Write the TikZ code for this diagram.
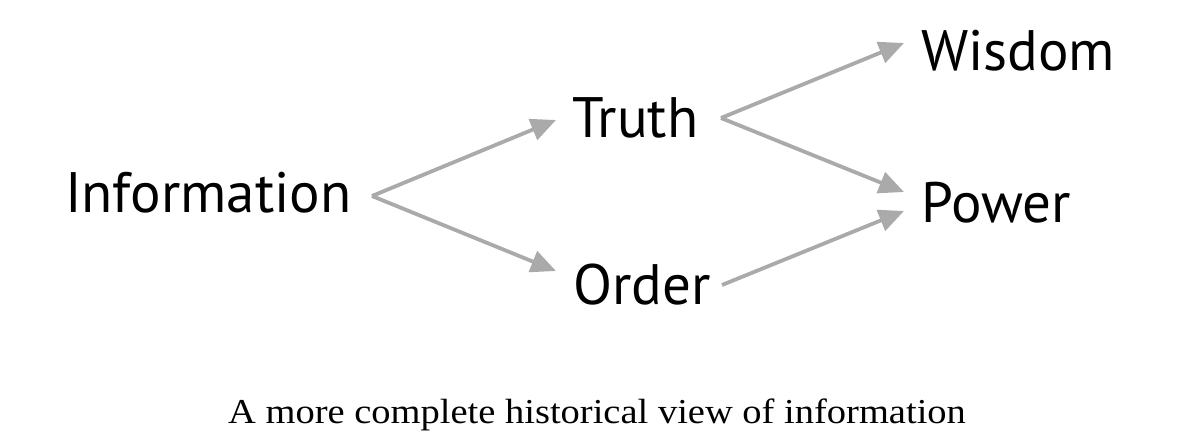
\documentclass[tikz,border=0pt]{standalone}
\usepackage{fontspec}
\setmainfont{Liberation Serif}
\newfontfamily\labelfont{PT Sans}
\usetikzlibrary{arrows.meta}
\definecolor{arrowgray}{RGB}{170,170,170}
\tikzset{
  word/.style={inner sep=0pt, anchor=base west, font=\labelfont\fontsize{57}{60}\selectfont},
  flow/.style={draw=arrowgray, line width=3.8pt, -{Triangle[length=25pt,width=22pt]}},
}
\begin{document}
\begin{tikzpicture}[x=1pt,y=-1pt]
\useasboundingbox (0,0) rectangle (1180,434);
\node[word] (info) at (65,212) {Information};
\node[word] (truth) at (572,137) {Truth};
\node[word] (order) at (573,304) {Order};
\node[word] (wisdom) at (921,70) {Wisdom};
\node[word] (power) at (921,222) {Power};
\node[inner sep=0pt, anchor=base, font=\fontsize{35}{38}\selectfont] (cap) at (597,423) {\scalebox{1.1}[1]{A more complete historical view of information}};
\coordinate (i0) at (372,196);
\coordinate (t0) at (721,118);
\coordinate (o0) at (722,285);
\coordinate (ti) at (556,120);
\coordinate (oi) at (556,271);
\coordinate (wi) at (904,43);
\coordinate (pa) at (904,192);
\coordinate (pb) at (904,211);
\draw[flow] (i0) -- (ti);
\draw[flow] (i0) -- (oi);
\draw[flow] (t0) -- (wi);
\draw[flow] (t0) -- (pa);
\draw[flow] (o0) -- (pb);
\end{tikzpicture}
\end{document}
